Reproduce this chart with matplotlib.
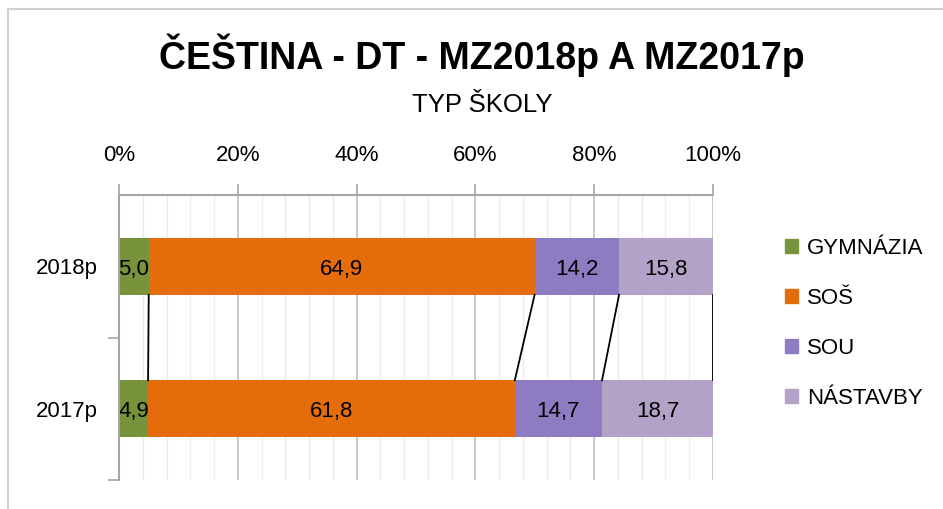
import numpy as np
import matplotlib.pyplot as plt
from matplotlib.lines import Line2D
from matplotlib.patches import Patch

plt.rcParams['font.family'] = ['Liberation Sans', 'DejaVu Sans']

years = ["2018p", "2017p"]
series = ["GYMNÁZIA", "SOŠ", "SOU", "NÁSTAVBY"]
values = np.array([
    [5.0, 64.9, 14.2, 15.8],   # 2018p
    [4.9, 61.8, 14.7, 18.7],   # 2017p
])
labels = [["5,0", "64,9", "14,2", "15,8"],
          ["4,9", "61,8", "14,7", "18,7"]]
colors = ["#77933C", "#E46C0A", "#8E7CC3", "#B3A2C7"]

# 100 % stacked
share = values / values.sum(axis=1, keepdims=True) * 100
cum = np.cumsum(share, axis=1)
left = cum - share

fig = plt.figure(figsize=(9.43, 5.09), dpi=100)
ax = fig.add_axes([119/943, 1-480/509, 594/943, 285/509])

ypos = np.arange(len(years))
bh = 0.4
for j in range(len(series)):
    ax.barh(ypos, share[:, j], left=left[:, j], height=bh, color=colors[j],
            label=series[j], zorder=3)
    for i in range(len(years)):
        ax.text(left[i, j] + share[i, j]/2, ypos[i] + 0.02, labels[i][j],
                ha='center', va='center', fontsize=16, color='black', zorder=5)

# series lines between the bars
for j in range(len(series)):
    ax.plot([cum[0, j], cum[1, j]], [ypos[0] + bh/2, ypos[1] - bh/2],
            color='black', lw=1.3, zorder=4)

ax.set_xlim(0, 100)
ax.set_ylim(1.5, -0.5)
ax.xaxis.tick_top()
ax.set_xticks(np.arange(0, 101, 20))
ax.set_xticklabels([f"{v}%" for v in range(0, 101, 20)], fontsize=16)
ax.set_xticks(np.arange(0, 101, 4), minor=True)
ax.tick_params(axis='x', which='major', length=8, color='#A6A6A6', width=1.2, pad=13)
ax.tick_params(axis='x', which='minor', length=0)
ax.grid(axis='x', which='major', color='#C0C0C0', lw=1.2, zorder=0)
ax.grid(axis='x', which='minor', color='#EBEBEB', lw=1.0, zorder=0)

ax.set_yticks(ypos)
ax.set_yticklabels(years, fontsize=16)
ax.set_yticks([0.5, 1.5], minor=True)
ax.tick_params(axis='y', which='major', length=0, pad=15)
ax.tick_params(axis='y', which='minor', length=8, color='#A6A6A6', width=1.2)

for s in ['right', 'bottom']:
    ax.spines[s].set_visible(False)
for s in ['left', 'top']:
    ax.spines[s].set_color('#A6A6A6')
    ax.spines[s].set_linewidth(1.5)
    ax.spines[s].set_zorder(6)

handles = [Patch(color=c, label=s) for c, s in zip(colors, series)]
fig.legend(handles=handles, loc='upper left', bbox_to_anchor=(765/943, 1-218/509),
           frameon=False, fontsize=16, handlelength=0.6, handleheight=0.6,
           handletextpad=0.4, labelspacing=1.3)

fig.text(482/943, 1-55/509, "ČEŠTINA - DT - MZ2018p A MZ2017p", ha='center',
         va='center', fontsize=27, fontweight='bold')
fig.text(482/943, 1-105/509, "TYP ŠKOLY", ha='center', va='center', fontsize=18.5)

# chart border
fig.add_artist(Line2D([8/943, 8/943], [0, 1-9/509], color='#D0D0D0', lw=1.5))
fig.add_artist(Line2D([8/943, 1], [1-9/509, 1-9/509], color='#D0D0D0', lw=1.5))

fig.savefig("out.png", dpi=100)
